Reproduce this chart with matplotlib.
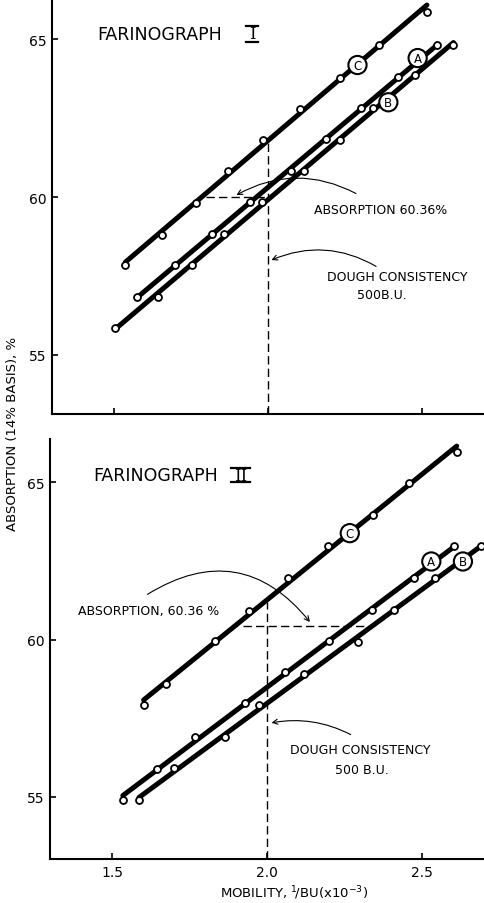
import matplotlib
matplotlib.use("Agg")
from matplotlib import pyplot as plt
import numpy as np

# ---- data ----
# Farinograph I
f1_a_x = [1.574, 1.699, 1.820, 1.942, 2.074, 2.187, 2.300, 2.422, 2.548]
f1_a_y = [56.82, 57.84, 58.83, 59.83, 60.83, 61.83, 62.83, 63.79, 64.81]
f1_b_x = [1.505, 1.642, 1.753, 1.858, 1.981, 2.117, 2.232, 2.339, 2.475, 2.601]
f1_b_y = [55.84, 56.85, 57.84, 58.83, 59.83, 60.83, 61.81, 62.83, 63.86, 64.81]
f1_c_x = [1.538, 1.655, 1.766, 1.871, 1.985, 2.104, 2.232, 2.360, 2.515]
f1_c_y = [57.84, 58.80, 59.82, 60.81, 61.80, 62.80, 63.78, 64.81, 65.86]

# Farinograph II
f2_a_x = [1.535, 1.645, 1.767, 1.930, 2.057, 2.201, 2.339, 2.474, 2.603]
f2_a_y = [54.89, 55.88, 56.92, 57.98, 58.97, 59.94, 60.95, 61.94, 62.97]
f2_b_x = [1.587, 1.701, 1.866, 1.975, 2.118, 2.292, 2.411, 2.542, 2.691]
f2_b_y = [54.89, 55.91, 56.92, 57.92, 58.90, 59.92, 60.94, 61.95, 62.97]
f2_c_x = [1.602, 1.675, 1.832, 1.941, 2.068, 2.197, 2.343, 2.459, 2.612]
f2_c_y = [57.93, 58.58, 59.94, 60.92, 61.94, 62.96, 63.96, 64.97, 65.95]

# reference (dashed) lines: mobility 2.0 at 500 BU
f1_vline = (2.0, 61.8)            # x, top of dashed line
f1_hline = (60.0, 1.80, 2.0)      # y, x from, x to
f2_vline = (2.0, 61.2)
f2_hline = (60.44, 1.924, 2.332)

xticks = [1.5, 2.0, 2.5]
yticks = [55, 60, 65]

plt.rcParams['font.family'] = ['DejaVu Sans']

fig = plt.figure(figsize=(4.84, 9.04), dpi=100)
ax1 = fig.add_axes([52/484, 1-415/904, 1-52/484, 415/904])
ax2 = fig.add_axes([50/484, 1-860/904, 1-50/484, 420/904])


def style(ax, ylim, xlabels=True):
    ax.set_xlim(1.3, 2.70)
    ax.set_ylim(*ylim)
    for s in ['top', 'right']:
        ax.spines[s].set_visible(False)
    for s in ['left', 'bottom']:
        ax.spines[s].set_linewidth(1.5)
    ax.set_yticks(yticks)
    ax.set_xticks(xticks)
    if not xlabels:
        ax.set_xticklabels([])
    ax.tick_params(direction='in', length=4, width=1.2, labelsize=10, pad=4)


def series(ax, x, y):
    # straight fitted line through the points, as in the drawing
    k, b = np.polyfit(x, y, 1)
    xs = np.array([x[0], x[-1]])
    ax.plot(xs, k*xs + b, '-', color='black', lw=3.6, solid_capstyle='round', zorder=3)
    ax.plot(x, y, 'o', ms=5, mfc='white', mec='black', mew=1.3, zorder=4,
            clip_on=False)


def tag(ax, s, x, y):
    ax.text(x, y, s, ha='center', va='center', fontsize=8.5, zorder=5,
            bbox=dict(boxstyle='circle,pad=0.22', fc='white', ec='black', lw=1.5))


def numeral(ax, s, xc, yc, x0, x1, ytop, ybot):
    ax.text(xc, yc, s, transform=ax.transAxes, ha='center', va='center',
            fontsize=12, family='DejaVu Serif')
    for yy in (ytop, ybot):
        ax.plot([x0, x1], [yy, yy], transform=ax.transAxes, color='black',
                lw=1.6, clip_on=False)


arrow = dict(arrowstyle='->,head_length=0.35,head_width=0.18', color='black', lw=0.8)

# ---- Farinograph I ----
style(ax1, (53.13, 66.27), xlabels=False)
series(ax1, f1_c_x, f1_c_y)
series(ax1, f1_a_x, f1_a_y)
series(ax1, f1_b_x, f1_b_y)
tag(ax1, 'C', 2.290, 64.18)
tag(ax1, 'A', 2.485, 64.40)
tag(ax1, 'B', 2.390, 63.00)
ax1.plot([f1_vline[0], f1_vline[0]], [53.13, f1_vline[1]], color='black', lw=1.0,
         dashes=(6, 3), zorder=2)
ax1.plot([f1_hline[1], f1_hline[2]], [f1_hline[0], f1_hline[0]], color='black', lw=1.0,
         dashes=(6, 3), zorder=2)
ax1.text(0.104, 0.916, 'FARINOGRAPH', transform=ax1.transAxes, ha='left', va='center',
         fontsize=12.5)
numeral(ax1, 'I', 0.463, 0.916, 0.450, 0.476, 0.936, 0.896)
ax1.text(2.148, 59.6, 'ABSORPTION 60.36%', ha='left', va='center', fontsize=9)
ax1.annotate('', xy=(1.89, 60.02), xytext=(2.293, 60.07),
             arrowprops=dict(connectionstyle='arc3,rad=0.28', **arrow))
ax1.text(2.42, 57.47, 'DOUGH CONSISTENCY', ha='center', va='center', fontsize=9)
ax1.text(2.37, 56.9, '500B.U.', ha='center', va='center', fontsize=9)
ax1.annotate('', xy=(2.003, 57.97), xytext=(2.358, 57.76),
             arrowprops=dict(connectionstyle='arc3,rad=0.26', **arrow))

# ---- Farinograph II ----
style(ax2, (53.03, 66.37))
series(ax2, f2_c_x, f2_c_y)
series(ax2, f2_a_x, f2_a_y)
series(ax2, f2_b_x, f2_b_y)
tag(ax2, 'C', 2.267, 63.38)
tag(ax2, 'A', 2.530, 62.48)
tag(ax2, 'B', 2.632, 62.48)
ax2.plot([f2_vline[0], f2_vline[0]], [53.03, f2_vline[1]], color='black', lw=1.0,
         dashes=(6, 3), zorder=2)
ax2.plot([f2_hline[1], f2_hline[2]], [f2_hline[0], f2_hline[0]], color='black', lw=1.0,
         dashes=(6, 3), zorder=2)
ax2.text(0.099, 0.914, 'FARINOGRAPH', transform=ax2.transAxes, ha='left', va='center',
         fontsize=12.5)
numeral(ax2, 'II', 0.439, 0.914, 0.418, 0.461, 0.931, 0.898)
ax2.text(1.618, 60.92, 'ABSORPTION, 60.36 %', ha='center', va='center', fontsize=9)
ax2.annotate('', xy=(2.144, 60.49), xytext=(1.607, 61.39),
             arrowprops=dict(connectionstyle='arc3,rad=-0.45', **arrow))
ax2.text(2.30, 56.52, 'DOUGH CONSISTENCY', ha='center', va='center', fontsize=9)
ax2.text(2.305, 55.88, '500 B.U.', ha='center', va='center', fontsize=9)
ax2.annotate('', xy=(2.006, 57.34), xytext=(2.278, 56.94),
             arrowprops=dict(connectionstyle='arc3,rad=0.18', **arrow))

fig.text(13/484, 1-434/904, 'ABSORPTION (14% BASIS), %', rotation=90,
         ha='center', va='center', fontsize=9.5)
fig.text(294/484, 1-893/904, r'MOBILITY, $^{1}\!/$BU(x10$^{-3}$)',
         ha='center', va='center', fontsize=9.5)

fig.savefig('out.png', dpi=100, facecolor='white')
